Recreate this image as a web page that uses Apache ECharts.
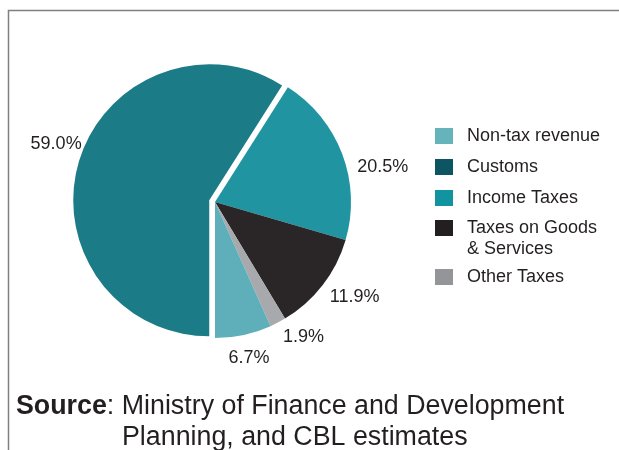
<!DOCTYPE html>
<html>
<head>
<meta charset="utf-8">
<script src="https://cdn.jsdelivr.net/npm/echarts@6/dist/echarts.min.js"></script>
<style>
  html, body { margin: 0; padding: 0; background: #ffffff; }
  #chart { width: 619px; height: 450px; }
</style>
</head>
<body>
<div id="chart"></div>
<script>
// Revenue composition (% of total), listed clockwise from the 6 o'clock position
const categories = ['Customs', 'Income Taxes', 'Taxes on Goods & Services', 'Other Taxes', 'Non-tax revenue'];
const shares = [59.0, 20.5, 11.9, 1.9, 6.7];

// Key entries, in the order they are listed
const legendTop = ['Non-tax revenue', 'Customs', 'Income Taxes'];
const legendMiddle = ['Taxes on Goods & Services'];
const legendBottom = ['Other Taxes'];

// Slice fills and key swatch fills
const sliceColors = {
  'Customs': '#1b7b86',
  'Income Taxes': '#2094a0',
  'Taxes on Goods & Services': '#2a2628',
  'Other Taxes': '#a7a9ac',
  'Non-tax revenue': '#5eafb9'
};
const swatchColors = {
  'Non-tax revenue': '#67b3bc',
  'Customs': '#0d5563',
  'Income Taxes': '#1293a0',
  'Taxes on Goods & Services': '#231f20',
  'Other Taxes': '#939598'
};

// Small nudges applied to each percentage label after the library places it
const labelNudge = [[8, -18], [10, 13], [2, 12], [0, 14], [-20, 23]];

const FONT = "'Liberation Sans', Arial, Helvetica, sans-serif";
const INK = '#231f20';

const chart = echarts.init(document.getElementById('chart'), null, { renderer: 'canvas' });

function legendEntry(name) {
  return { name: name, itemStyle: { color: swatchColors[name], borderWidth: 0 } };
}

const legendText = { fontSize: 18, lineHeight: 21, color: INK, fontFamily: FONT, padding: [0, 0, 0, 9] };
const legendFormatter = function (name) {
  return name === 'Taxes on Goods & Services' ? 'Taxes on Goods\n& Services' : name;
};

function makeLegend(names, top, extra) {
  return Object.assign({
    orient: 'vertical',
    left: 435,
    top: top,
    padding: 0,
    itemWidth: 18,
    itemHeight: 16,
    itemGap: 10,
    icon: 'rect',
    formatter: legendFormatter,
    textStyle: legendText,
    data: names.map(legendEntry)
  }, extra || {});
}

chart.setOption({
  animation: false,
  backgroundColor: '#ffffff',
  title: {
    left: 16,
    top: 391,
    padding: 0,
    text: '{b|Source}{r|: Ministry of Finance and Development}\n{ind|}{r|Planning, and CBL estimates}',
    textStyle: {
      fontFamily: FONT,
      fontSize: 26.8,
      lineHeight: 31,
      color: INK,
      rich: {
        b: { fontFamily: FONT, fontSize: 26.8, fontWeight: 'bold', lineHeight: 31, color: INK },
        r: { fontFamily: FONT, fontSize: 26.8, fontWeight: 'normal', lineHeight: 31, color: INK },
        ind: { width: 106, height: 31, lineHeight: 31 }
      }
    }
  },
  legend: [
    makeLegend(legendTop, 125.5),
    // two-line entry: the swatch sits beside the first line
    makeLegend(legendMiddle, 217.5, {
      itemHeight: 37,
      icon: 'path://M0,0H18V16H0Z M18,37'
    }),
    makeLegend(legendBottom, 266.5)
  ],
  graphic: [
    {
      type: 'polyline',
      silent: true,
      shape: { points: [[8.5, 450], [8.5, 10.5], [619, 10.5]] },
      style: { stroke: '#808080', lineWidth: 1.5, fill: null }
    }
  ],
  series: [
    {
      type: 'pie',
      center: [215, 202],
      radius: 136,
      startAngle: 270,
      clockwise: true,
      selectedMode: 'single',
      selectedOffset: 6,
      avoidLabelOverlap: false,
      itemStyle: { borderWidth: 0 },
      label: {
        show: true,
        position: 'outside',
        fontSize: 18,
        fontFamily: FONT,
        color: INK,
        distanceToLabelLine: 5,
        formatter: function (p) { return p.value.toFixed(1) + '%'; }
      },
      labelLine: { show: false, length: 0, length2: 0 },
      labelLayout: function (params) {
        const n = labelNudge[params.dataIndex];
        return { dx: n[0], dy: n[1] };
      },
      emphasis: { disabled: true },
      data: categories.map(function (name, i) {
        return {
          name: name,
          value: shares[i],
          selected: name === 'Customs',
          itemStyle: { color: sliceColors[name] }
        };
      })
    }
  ]
});
</script>
</body>
</html>
